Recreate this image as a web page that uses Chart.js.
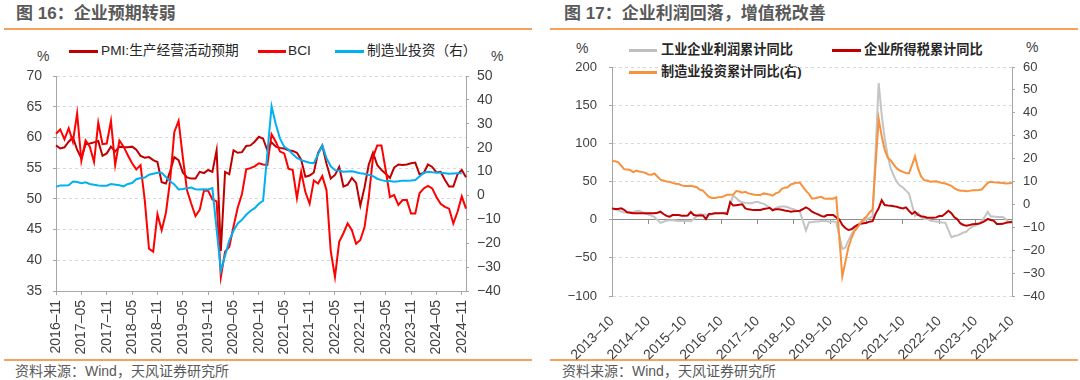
<!DOCTYPE html>
<html>
<head>
<meta charset="utf-8">
<script src="https://cdn.jsdelivr.net/npm/chart.js@4.4.1/dist/chart.umd.min.js"></script>
<style>
  body { margin: 0; width: 1080px; height: 380px; background: #fff; position: relative; overflow: hidden;
         font-family: "Liberation Sans", Arial, "Noto Sans CJK SC", sans-serif; }
  canvas { position: absolute; top: 0; }
  .t { position: absolute; white-space: nowrap; line-height: 1; }
  .title { font-size: 17px; font-weight: bold; color: #595959; }
  .rule { position: absolute; height: 1.5px; background: #F6A25C; }
  .src { font-size: 14px; color: #595959; }
  .lg { font-size: 13.7px; color: #262626; }
  .lgb { font-size: 13.2px; color: #262626; font-weight: bold; }
  .swatch { position: absolute; height: 2.5px; }
  .unit { font-size: 14px; color: #404040; }
</style>
</head>
<body>

<!-- left panel -->
<div class="t title" style="left:16px;top:5px;">图 16：企业预期转弱</div>
<div class="rule" style="left:4px;top:28px;width:528px;"></div>
<div class="t unit" style="left:37px;top:49px;">%</div>
<div class="t unit" style="left:491px;top:49px;">%</div>
<div class="swatch" style="left:69px;top:50px;width:29px;background:#C00000;"></div>
<div class="t lg" style="left:101px;top:44px;">PMI:生产经营活动预期</div>
<div class="swatch" style="left:258px;top:50px;width:28px;background:#FF0000;"></div>
<div class="t lg" style="left:288px;top:44px;">BCI</div>
<div class="swatch" style="left:335px;top:50px;width:29px;background:#00B0F0;"></div>
<div class="t lg" style="left:367px;top:44px;">制造业投资（右）</div>
<div class="rule" style="left:4px;top:359px;width:528px;"></div>
<div class="t src" style="left:15px;top:364px;">资料来源：Wind，天风证券研究所</div>

<!-- right panel -->
<div class="t title" style="left:564px;top:5px;">图 17：企业利润回落，增值税改善</div>
<div class="rule" style="left:550px;top:28px;width:528px;"></div>
<div class="t unit" style="left:576px;top:41px;">%</div>
<div class="t unit" style="left:1026px;top:40px;">%</div>
<div class="swatch" style="left:629px;top:49px;width:28px;background:#BFBFBF;"></div>
<div class="t lgb" style="left:661px;top:43px;">工业企业利润累计同比</div>
<div class="swatch" style="left:832px;top:49px;width:29px;background:#C00000;"></div>
<div class="t lgb" style="left:864px;top:43px;">企业所得税累计同比</div>
<div class="swatch" style="left:629px;top:71px;width:28px;background:#F7913D;"></div>
<div class="t lgb" style="left:661px;top:65px;">制造业投资累计同比(右)</div>
<div class="rule" style="left:550px;top:359px;width:528px;"></div>
<div class="t src" style="left:562px;top:364px;">资料来源：Wind，天风证券研究所</div>

<canvas id="c1" width="540" height="360" style="left:0;"></canvas>
<canvas id="c2" width="540" height="360" style="left:540px;"></canvas>

<script>
// ---------- data ----------
function monthRange(start, end) {
  const out = [];
  let [y, m] = start.split('-').map(Number);
  const [ey, em] = end.split('-').map(Number);
  while (y < ey || (y === ey && m <= em)) {
    out.push(y + '-' + String(m).padStart(2, '0'));
    m++; if (m > 12) { m = 1; y++; }
  }
  return out;
}

// figure 16: 2016-11 .. 2024-12
const leftMonths = monthRange('2016-11', '2024-12');

const pmiExpect = [
  58.7, 58.2,
  58.4, 59.3, 60.0, 58.0, 56.6, 58.9, 59.0, 59.2, 59.4, 57.0, 57.4, 58.5,
  57.7, 58.5, 58.4, 58.4, 58.5, 58.0, 57.0, 56.7, 56.8, 56.3, 56.0, 52.7,
  52.5, 54.5, 56.8, 56.3, 54.3, 53.5, 53.3, 53.3, 54.4, 54.2, 54.7, 54.4,
  57.9, 41.5, 54.4, 54.0, 57.9, 57.5, 57.6, 58.6, 58.7, 59.3, 60.1, 59.8,
  57.9, 59.2, 58.5, 58.3, 58.2, 57.9, 57.8, 57.5, 56.4, 53.6, 53.8, 54.3,
  57.5, 58.7, 55.7, 53.3, 53.9, 55.2, 52.0, 52.3, 53.4, 52.6, 48.9, 51.9,
  55.6, 57.5, 55.5, 54.7, 54.1, 53.4, 55.1, 55.6, 55.5, 55.6, 55.8, 55.9,
  54.0, 54.2, 55.6, 55.2, 54.3, 54.4, 53.1, 52.0, 52.0, 54.0, 54.7, 53.5
];

const bci = [
  60.6, 61.3,
  59.7, 61.5, 59.3, 63.9, 56.2, 59.5, 58.5, 56.0, 62.4, 58.9, 59.0, 62.7,
  55.5, 59.5, 58.5, 57.1, 55.8, 54.8, 55.5, 49.8, 41.9, 41.4, 47.5, 44.9,
  47.7, 53.0, 60.9, 62.7, 56.8, 51.4, 49.2, 47.2, 48.2, 51.3, 51.3, 49.9,
  49.6, 37.3, 41.4, 42.2, 45.5, 48.6, 50.8, 54.8, 55.0, 55.3, 55.8, 55.6,
  55.5, 60.5, 59.3, 57.7, 57.4, 54.9, 54.7, 50.1, 54.4, 51.1, 49.2, 53.0,
  52.5, 53.7, 51.4, 41.5, 37.3, 43.0, 44.4, 46.0, 44.9, 42.7, 43.3, 45.4,
  50.3, 56.8, 58.7, 58.7, 54.7, 50.3, 50.6, 49.0, 49.8, 49.8, 47.6, 47.6,
  50.9, 51.7, 52.1, 51.7, 50.3, 49.2, 48.7, 48.4, 46.0, 47.9, 50.4, 48.4
];

// manufacturing investment, cumulative yoy (right axis), no January prints
const mfgInvest = [
  3.6, 4.2,
  null, 4.3, 5.8, 5.6, 5.1, 5.5, 4.8, 4.5, 4.2, 4.1, 4.1, 4.8,
  null, 4.3, 3.8, 4.8, 5.2, 6.8, 7.3, 7.5, 8.7, 9.1, 9.5, 9.5,
  null, 5.9, 4.6, 2.5, 2.7, 3.0, 3.3, 2.6, 2.5, 2.6, 2.5, 3.1,
  null, -31.5, -25.2, -18.8, -14.8, -11.7, -10.2, -8.1, -6.5, -5.3, -3.5, -2.2,
  null, 37.3, 29.8, 23.8, 20.4, 19.2, 17.3, 15.7, 14.8, 14.2, 13.7, 13.5,
  null, 20.9, 15.6, 12.2, 10.6, 10.4, 9.9, 10.0, 10.1, 9.7, 9.3, 9.1,
  null, 8.1, 7.0, 6.4, 6.0, 6.0, 5.7, 5.9, 6.2, 6.2, 6.3, 6.5,
  null, 9.4, 9.9, 9.7, 9.6, 9.5, 9.3, 9.1, 9.2, 9.3, 9.3, null
];

// figure 17: 2013-10 .. 2024-10
const rightMonths = monthRange('2013-10', '2024-10');

const profitYoy = [
  13.7, 13.2, 12.2,
  null, 9.4, 9.6, 9.6, 9.8, 11.4, 11.6, 10.0, 7.9, 6.7, 5.3, 3.3,
  null, -4.2, -2.7, -1.3, -0.8, -0.7, -1.0, -1.9, -1.7, -1.9, -1.4, -2.3,
  null, 4.8, 7.4, 6.5, 6.4, 6.2, 6.9, 8.4, 8.4, 8.6, 9.4, 8.5,
  null, 31.5, 28.3, 24.4, 22.7, 22.0, 21.6, 21.6, 22.8, 23.3, 21.9, 21.0,
  null, 16.1, 11.6, 15.0, 16.5, 17.2, 17.1, 16.2, 14.7, 13.6, 11.8, 10.3,
  null, -14.0, -3.3, -3.4, -2.3, -2.4, -1.7, -1.7, -2.1, -2.9, -2.1, -3.3,
  null, -38.3, -36.7, -27.4, -19.3, -12.8, -8.1, -4.4, -2.4, 0.7, 2.4, 4.1,
  null, 178.9, 137.3, 106.0, 83.4, 66.9, 57.3, 49.5, 44.7, 42.2, 38.0, 34.3,
  null, 5.0, 8.5, 3.5, 1.0, 1.0, -1.1, -2.1, -2.3, -3.0, -3.6, -4.0,
  null, -22.9, -21.4, -20.6, -18.8, -16.8, -15.5, -11.7, -9.0, -7.8, -4.4, -2.3,
  null, 10.2, 4.3, 4.3, 3.4, 3.5, 3.6, 0.5, -3.5, -4.3
];

const incomeTaxYoy = [
  14.8, 13.9, 13.9,
  14.8, 13.0, 9.6, 9.1, 8.5, 8.3, 8.3, 8.3, 8.3, 8.3, 8.3, 8.5,
  9.1, 10.4, 7.4, 5.0, 3.9, 6.1, 6.1, 6.1, 5.2, 5.2, 5.5, 10.0,
  6.1, 5.5, 5.5, 5.5, 0.9, 7.4, 7.8, 8.3, 8.3, 8.3, 8.3, 7.4,
  23.0, 18.5, 19.0, 19.5, 20.2, 14.8, 13.5, 13.0, 12.6, 12.6, 12.6, 13.9,
  14.5, 15.6, 12.6, 13.5, 13.5, 13.0, 12.0, 11.5, 10.4, 11.0, 11.3, 11.7,
  13.9, 16.0, 14.0, 10.4, 8.5, 7.0, 5.0, 3.9, 6.1, 6.1, 6.1, 3.0,
  0.4, -7.0, -11.0, -13.5, -12.6, -9.5, -7.0, -5.5, -4.8, -4.0, -2.6, -2.0,
  8.0, 15.0, 25.5, 19.1, 18.5, 18.3, 17.5, 17.0, 15.5, 14.8, 16.1, 11.5,
  7.4, 10.4, 6.1, 4.5, 3.9, 2.6, 2.6, 2.6, 3.0, 4.8, 4.8, 8.0,
  11.7, 8.5, 3.0, 0.4, -5.0, -7.0, -7.8, -7.0, -6.1, -5.7, -5.5, -3.9,
  -2.0, 0.9, -0.5, -1.5, -5.7, -5.7, -5.5, -3.9, -3.5, -2.6
];

const mfgInvestCum = [
  19.0, 18.8, 18.5,
  null, 15.4, 15.2, 15.0, 14.1, 14.8, 14.4, 14.1, 13.8, 13.1, 13.0, 13.5,
  null, 10.8, 10.4, 10.0, 9.9, 9.4, 9.0, 8.9, 8.3, 8.0, 8.0, 8.1,
  null, 7.5, 6.4, 6.0, 4.6, 3.3, 2.8, 2.8, 3.1, 3.1, 3.6, 4.2,
  null, 4.3, 5.8, 5.6, 5.1, 5.5, 4.8, 4.5, 4.2, 4.1, 4.1, 4.8,
  null, 4.3, 3.8, 4.8, 5.2, 6.8, 7.3, 7.5, 8.7, 9.1, 9.5, 9.5,
  null, 5.9, 4.6, 2.5, 2.7, 3.0, 3.3, 2.6, 2.5, 2.6, 2.5, 3.1,
  null, -31.5, -25.2, -18.8, -14.8, -11.7, -10.2, -8.1, -6.5, -5.3, -3.5, -2.2,
  null, 37.3, 29.8, 23.8, 20.4, 19.2, 17.3, 15.7, 14.8, 14.2, 13.7, 13.5,
  null, 20.9, 15.6, 12.2, 10.6, 10.4, 9.9, 10.0, 10.1, 9.7, 9.3, 9.1,
  null, 8.1, 7.0, 6.4, 6.0, 6.0, 5.7, 5.9, 6.2, 6.2, 6.3, 6.5,
  null, 9.4, 9.9, 9.7, 9.6, 9.5, 9.3, 9.1, 9.2, 9.3
];

// ---------- shared styling ----------
const TEXT = '#404040';
const AXIS = '#A6A6A6';
const GRID = '#D9D9D9';
const minus = v => (v < 0 ? '\u2212' + Math.abs(v) : String(v));
const dash = s => s.replace('-', '\u2013');

function line(label, data, color, axis) {
  return {
    label, data, yAxisID: axis,
    borderColor: color, backgroundColor: color,
    borderWidth: 2, pointRadius: 0, tension: 0, spanGaps: true
  };
}

const base = {
  responsive: false,
  animation: false,
  events: [],
  plugins: { legend: { display: false }, tooltip: { enabled: false } }
};

// ---------- figure 16 ----------
new Chart(document.getElementById('c1'), {
  type: 'line',
  data: {
    labels: leftMonths,
    datasets: [
      line('制造业投资（右）', mfgInvest, '#00B0F0', 'y1'),
      line('BCI', bci, '#FF0000', 'y'),
      line('PMI:生产经营活动预期', pmiExpect, '#C00000', 'y')
    ]
  },
  options: {
    ...base,
    layout: { padding: { top: 76, left: 0, right: 0, bottom: 0 } },
    scales: {
      x: {
        offset: false,
        grid: {
          drawOnChartArea: false, drawTicks: true, tickLength: 4,
          tickColor: ctx => (ctx.index % 6 === 0 ? AXIS : 'rgba(0,0,0,0)')
        },
        border: { display: true, color: AXIS },
        ticks: {
          autoSkip: false, minRotation: 90, maxRotation: 90, padding: 5,
          color: TEXT, font: { size: 14 },
          callback: function (v, i) { return i % 6 === 0 ? dash(this.getLabelForValue(v)) : ''; }
        },
        afterFit: s => { s.height = 69; }
      },
      y: {
        position: 'left', min: 35, max: 70,
        ticks: { stepSize: 5, padding: 11, color: TEXT, font: { size: 14 } },
        grid: { color: GRID, tickLength: 3, tickColor: AXIS },
        border: { color: AXIS, dash: [3, 3] },
        afterFit: s => { s.width = 56; }
      },
      y1: {
        position: 'right', min: -40, max: 50,
        ticks: { stepSize: 10, padding: 8, color: TEXT, font: { size: 14 }, callback: minus },
        grid: { drawOnChartArea: false, tickLength: 3, tickColor: AXIS },
        border: { color: AXIS },
        afterFit: s => { s.width = 74; }
      }
    }
  }
});

// ---------- figure 17 ----------
new Chart(document.getElementById('c2'), {
  type: 'line',
  data: {
    labels: rightMonths,
    datasets: [
      { ...line('制造业投资累计同比(右)', mfgInvestCum, '#F7913D', 'y1'), xAxisID: 'x' },
      { ...line('企业所得税累计同比', incomeTaxYoy, '#C00000', 'y'), xAxisID: 'x' },
      { ...line('工业企业利润累计同比', profitYoy, '#C4C4C4', 'y'), xAxisID: 'x' }
    ]
  },
  options: {
    ...base,
    layout: { padding: { top: 67, left: 0, right: 0, bottom: 0 } },
    scales: {
      x: {
        offset: false,
        grid: { display: false },
        border: { display: false },
        ticks: {
          autoSkip: false, minRotation: 45, maxRotation: 45, padding: 9,
          color: TEXT, font: { size: 14 },
          callback: function (v, i) { return i % 12 === 0 ? dash(this.getLabelForValue(v)) : ''; }
        },
        afterFit: s => { s.height = 64; }
      },
      x0: {
        type: 'category', labels: rightMonths, offset: false,
        position: { y: 0 },
        grid: {
          drawOnChartArea: false, drawTicks: true, tickLength: 4,
          tickColor: ctx => (ctx.index % 12 === 0 && ctx.index > 0 ? '#8C8C8C' : 'rgba(0,0,0,0)')
        },
        border: { display: true, color: '#8C8C8C' },
        ticks: { display: false }
      },
      y: {
        position: 'left', min: -100, max: 200,
        ticks: { stepSize: 50, padding: 12, color: TEXT, font: { size: 13 }, callback: minus },
        grid: { color: GRID, tickLength: 3, tickColor: AXIS },
        border: { color: AXIS, dash: [3, 3] },
        afterFit: s => { s.width = 72; }
      },
      y1: {
        position: 'right', min: -40, max: 60,
        ticks: { stepSize: 10, padding: 8, color: TEXT, font: { size: 13 }, callback: minus },
        grid: { drawOnChartArea: false, tickLength: 3, tickColor: AXIS },
        border: { color: AXIS },
        afterFit: s => { s.width = 68; }
      }
    }
  }
});
</script>
</body>
</html>
